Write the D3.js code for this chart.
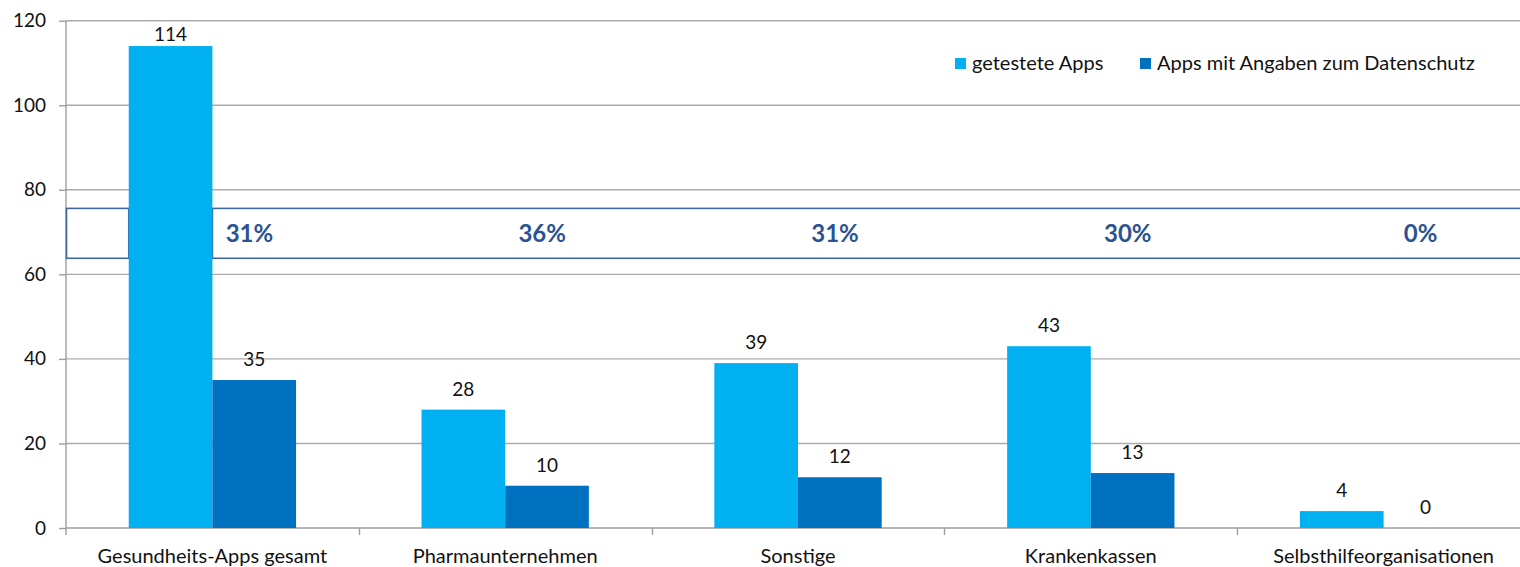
<!DOCTYPE html>
<html>
<head>
<meta charset="utf-8">
<script src="https://cdn.jsdelivr.net/npm/d3@7"></script>
<style>
  html, body { margin: 0; padding: 0; background: #fff; overflow: hidden; }
  svg { display: block; font-family: Lato, "Open Sans", sans-serif; }
</style>
</head>
<body>
<svg id="chart" width="1520" height="567"></svg>
<script>
// Categories and series
const categories = ["Gesundheits-Apps gesamt", "Pharmaunternehmen", "Sonstige", "Krankenkassen", "Selbsthilfeorganisationen"];
const seriesNames = ["getestete Apps", "Apps mit Angaben zum Datenschutz"];
const tested = [114, 28, 39, 43, 4];
const withPrivacy = [35, 10, 12, 13, 0];
const yTicks = [0, 20, 40, 60, 80, 100, 120];
// Band holding the share labels (value range on the y axis)
const shareBand = [63.8, 75.6];

const colors = ["#00B0F0", "#0070C0"];

const svg = d3.select("#chart");
const margin = { left: 66, top: 20.7, right: -10, bottom: 39 };
const W = 1520, H = 567;
const plotRight = W - margin.right;       // plot continues slightly past the frame
const plotBottom = H - margin.bottom;

const x0 = d3.scaleBand().domain(categories).range([margin.left, plotRight]).paddingInner(0).paddingOuter(0);
const x1 = d3.scaleBand().domain(seriesNames).range([0, x0.bandwidth()]).paddingInner(0).paddingOuter(0.75);
const y = d3.scaleLinear().domain([0, 120]).range([plotBottom, margin.top]);

// Horizontal gridlines
svg.append("g").selectAll("line").data(yTicks.filter(t => t > 0)).join("line")
  .attr("x1", margin.left).attr("x2", plotRight)
  .attr("y1", d => y(d)).attr("y2", d => y(d))
  .attr("stroke", "#ABABAB").attr("stroke-width", 1.4);

// Y axis
const yAxis = svg.append("g").attr("transform", `translate(${margin.left},0)`)
  .call(d3.axisLeft(y).tickValues(yTicks).tickSize(7).tickPadding(13).tickFormat(d3.format("d")));
yAxis.select(".domain").attr("stroke", "#9E9E9E").attr("stroke-width", 1.4).attr("d", `M0,${margin.top}V${plotBottom + 7}`);
yAxis.selectAll(".tick line").attr("stroke", "#9E9E9E").attr("stroke-width", 1.4);
yAxis.selectAll(".tick text").attr("fill", "#111").style("font-size", "19px").style("font-family", "Lato, sans-serif");

// X axis baseline and category separators
const xAxis = svg.append("g").attr("transform", `translate(0,${plotBottom})`);
xAxis.append("line").attr("x1", margin.left).attr("x2", plotRight).attr("y1", 0).attr("y2", 0)
  .attr("stroke", "#9E9E9E").attr("stroke-width", 1.4);
xAxis.selectAll("line.sep").data(categories.slice(1)).join("line").attr("class", "sep")
  .attr("x1", d => Math.round(x0(d)) + 0.5).attr("x2", d => Math.round(x0(d)) + 0.5)
  .attr("y1", 0).attr("y2", 7).attr("stroke", "#9E9E9E").attr("stroke-width", 1.4);
xAxis.selectAll("text").data(categories).join("text")
  .attr("x", d => x0(d) + x0.bandwidth() / 2).attr("y", 35)
  .attr("text-anchor", "middle").attr("fill", "#111").style("font-size", "20px")
  .text(d => d);

// Share band: framed strip, interrupted by the tallest bar
const firstX = x0(categories[0]) + x1(seriesNames[0]);
const firstEnd = firstX + x1.bandwidth();
const bandTop = y(shareBand[1]), bandBottom = y(shareBand[0]);
const boxStyle = s => s.attr("fill", "#fff").attr("stroke", "#41679F").attr("stroke-width", 1.6);
svg.append("rect").attr("x", margin.left + 0.5).attr("y", bandTop).attr("width", firstX - margin.left - 0.5)
  .attr("height", bandBottom - bandTop).call(boxStyle);
svg.append("rect").attr("x", firstEnd).attr("y", bandTop).attr("width", plotRight - firstEnd)
  .attr("height", bandBottom - bandTop).call(boxStyle);

// Bars
const rows = categories.map((c, i) => ({ cat: c, values: [tested[i], withPrivacy[i]] }));
const groups = svg.append("g").selectAll("g").data(rows).join("g")
  .attr("transform", d => `translate(${x0(d.cat)},0)`);
groups.selectAll("rect").data(d => d.values.map((v, j) => ({ v, s: seriesNames[j], j }))).join("rect")
  .attr("x", d => x1(d.s)).attr("width", x1.bandwidth())
  .attr("y", d => y(d.v)).attr("height", d => y(0) - y(d.v))
  .attr("fill", d => colors[d.j]);

// Value labels above each bar
groups.selectAll("text.val").data(d => d.values.map((v, j) => ({ v, s: seriesNames[j], j }))).join("text")
  .attr("class", "val")
  .attr("x", d => x1(d.s) + x1.bandwidth() / 2)
  .attr("y", d => Math.max(y(d.v) - 14, margin.top + 20))
  .attr("text-anchor", "middle").attr("fill", "#111").style("font-size", "19px")
  .text(d => d.v);

// Share of apps with privacy information, per category
svg.append("g").selectAll("text").data(rows).join("text")
  .attr("x", d => x0(d.cat) + x0.bandwidth() / 2 + 37)
  .attr("y", (bandTop + bandBottom) / 2 + 9)
  .attr("text-anchor", "middle").attr("fill", "#2B5393")
  .style("font-size", "24px").style("font-weight", "bold")
  .text(d => d3.format(".0%")(d.values[1] / d.values[0]));

// Legend
const legend = svg.append("g");
const legendX = [955, 1140];
seriesNames.forEach((name, i) => {
  const g = legend.append("g").attr("transform", `translate(${legendX[i]},58)`);
  g.append("rect").attr("width", 11).attr("height", 11).attr("fill", colors[i]);
  g.append("text").attr("x", 17).attr("y", 12).attr("fill", "#111").style("font-size", "20px").text(name);
});
</script>
</body>
</html>
